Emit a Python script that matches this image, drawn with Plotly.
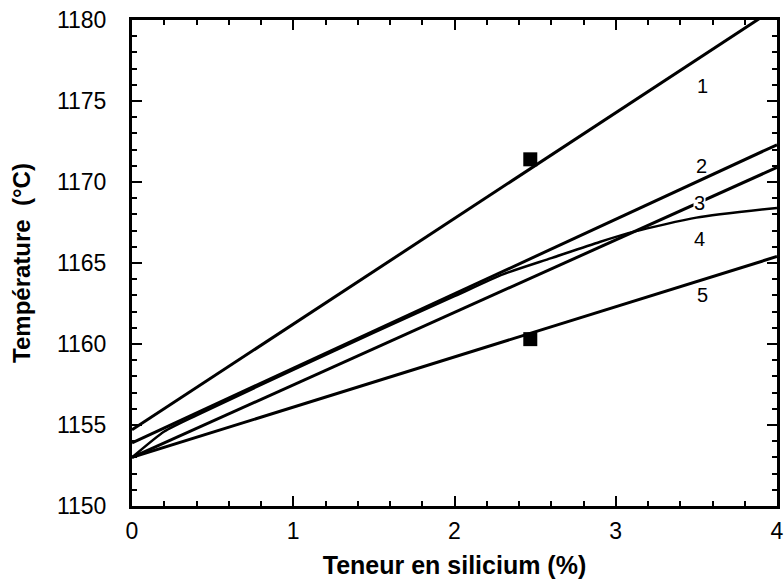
import plotly.graph_objects as go

# Data
x_lin = [0, 4]
curve1 = [1154.7, 1180.8]
curve2 = [1153.9, 1172.3]
curve3 = [1153.0, 1170.9]
curve5 = [1153.0, 1165.4]

x4 = [0, 0.2, 0.4, 1.0, 1.5, 2.0, 2.3, 2.6, 2.9, 3.12, 3.5, 4.0]
curve4 = [1153.0, 1154.6, 1155.6, 1158.4, 1160.7, 1162.95, 1164.3, 1165.3, 1166.3, 1166.95, 1167.8, 1168.4]

pts_x = [2.47, 2.47]
pts_y = [1171.4, 1160.3]

label_text = ["1", "2", "3", "4", "5"]
label_x = [3.54, 3.53, 3.52, 3.52, 3.54]
label_y = [1175.9, 1171.0, 1168.7, 1166.5, 1163.0]

font_family = "Liberation Sans, Arial, Helvetica, sans-serif"

fig = go.Figure()
line_style = dict(color="black", width=3)
for ys in [curve1, curve2, curve3, curve5]:
    fig.add_trace(go.Scatter(x=x_lin, y=ys, mode="lines", line=line_style,
                             showlegend=False, hoverinfo="skip"))
fig.add_trace(go.Scatter(x=x4, y=curve4, mode="lines",
                         line=dict(color="black", width=2.5, shape="spline", smoothing=0.6),
                         showlegend=False, hoverinfo="skip"))
fig.add_trace(go.Scatter(x=pts_x, y=pts_y, mode="markers",
                         marker=dict(symbol="square", size=14, color="black"),
                         showlegend=False, hoverinfo="skip"))

for t, lx, ly in zip(label_text, label_x, label_y):
    fig.add_annotation(x=lx, y=ly, text=t, showarrow=False,
                       font=dict(size=20, color="black", family=font_family),
                       bgcolor="white" if t == "3" else "rgba(0,0,0,0)",
                       borderpad=0)

axis_common = dict(
    showline=True, linecolor="black", linewidth=3, mirror="allticks",
    ticks="inside", ticklen=10, tickwidth=2, tickcolor="black",
    showgrid=False, zeroline=False, ticklabeloverflow="allow",
    tickfont=dict(size=23, color="black", family=font_family),
)

fig.update_xaxes(range=[0, 4], dtick=1, tick0=0,
                 minor=dict(dtick=0.2, ticks="inside", ticklen=5, tickwidth=2, tickcolor="black"),
                 title_text="<b>Teneur en silicium (%)</b>", title_standoff=14,
                 title_font=dict(size=25, color="black", family=font_family),
                 ticklabelstandoff=2,
                 **axis_common)
fig.update_yaxes(range=[1150, 1180], dtick=5, tick0=1150,
                 minor=dict(dtick=1, ticks="inside", ticklen=5, tickwidth=2, tickcolor="black"),
                 title_text="<b>Température  (°C)</b>", title_standoff=20,
                 title_font=dict(size=24, color="black", family=font_family),
                 ticklabelstandoff=18,
                 **axis_common)

fig.update_layout(
    width=784, height=583,
    margin=dict(l=132, r=7, t=20, b=77, autoexpand=False),
    paper_bgcolor="white", plot_bgcolor="white",
    font=dict(family=font_family, color="black"),
)

fig.write_html("out.html",
               config={"displayModeBar": False, "staticPlot": True},
               post_script="document.body.style.margin='0';document.body.style.overflow='hidden';")
